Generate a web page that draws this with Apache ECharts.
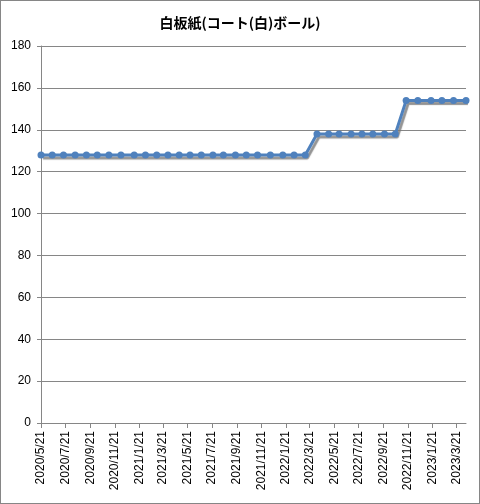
<!DOCTYPE html>
<html>
<head>
<meta charset="utf-8">
<script src="https://cdn.jsdelivr.net/npm/echarts@6/dist/echarts.min.js"></script>
<style>
html,body{margin:0;padding:0;background:#fff;}
#c{width:480px;height:504px;box-sizing:border-box;border:1px solid #868686;}
</style>
</head>
<body>
<div id="c"></div>
<script>
const title = '白板紙(コート(白)ボール)';
const dates = [
  '2020-05-21','2020-06-18','2020-07-16','2020-08-14','2020-09-11','2020-10-08',
  '2020-11-06','2020-12-06','2021-01-08','2021-02-05','2021-03-05','2021-04-02',
  '2021-04-30','2021-05-27','2021-06-24','2021-07-23','2021-08-18','2021-09-17',
  '2021-10-14','2021-11-11','2021-12-13','2022-01-13','2022-02-10','2022-03-10',
  '2022-04-08','2022-05-07','2022-06-02','2022-07-02','2022-07-29','2022-08-25',
  '2022-09-23','2022-10-20',
  '2022-11-16','2022-12-15','2023-01-17','2023-02-13','2023-03-14','2023-04-14'
];
const values = [
  128,128,128,128,128,128,128,128,128,128,128,128,
  128,128,128,128,128,128,128,128,128,128,128,128,
  138,138,138,138,138,138,138,138,
  154,154,154,154,154,154
];
const tickLabels = [
  '2020/5/21','2020/7/21','2020/9/21','2020/11/21','2021/1/21','2021/3/21',
  '2021/5/21','2021/7/21','2021/9/21','2021/11/21','2022/1/21','2022/3/21',
  '2022/5/21','2022/7/21','2022/9/21','2022/11/21','2023/1/21','2023/3/21'
];

function ts(s) {
  const p = s.split(/[-\/]/).map(Number);
  return Date.UTC(p[0], p[1] - 1, p[2]);
}
const tickValues = tickLabels.map(ts);
const seriesData = dates.map((d, i) => [ts(d), values[i]]);

const chart = echarts.init(document.getElementById('c'), null, {renderer: 'canvas'});
chart.setOption({
  animation: false,
  backgroundColor: '#fff',
  title: {
    text: title,
    left: 'center',
    top: 10,
    textStyle: {fontFamily: 'Noto Sans CJK JP', fontWeight: 'bold', fontSize: 14, color: '#000'}
  },
  grid: {left: 40, right: 13, top: 45, bottom: 80, containLabel: false},
  xAxis: {
    type: 'value',
    min: ts(dates[0]),
    max: ts(dates[dates.length - 1]),
    axisLine: {show: true, lineStyle: {color: '#868686', width: 1}},
    axisTick: {show: true, length: 5, lineStyle: {color: '#868686'}, customValues: tickValues},
    splitLine: {show: false},
    axisLabel: {
      customValues: tickValues,
      rotate: 90,
      margin: 8,
      fontFamily: 'Liberation Sans',
      fontSize: 12,
      color: '#000',
      hideOverlap: false,
      formatter: function (v) {
        const d = new Date(v);
        return d.getUTCFullYear() + '/' + (d.getUTCMonth() + 1) + '/' + d.getUTCDate();
      }
    }
  },
  yAxis: {
    type: 'value',
    min: 0,
    max: 180,
    interval: 20,
    axisLine: {show: true, lineStyle: {color: '#868686', width: 1}},
    axisTick: {show: true, length: 4, lineStyle: {color: '#868686'}},
    splitLine: {show: true, lineStyle: {color: '#868686', width: 1}},
    axisLabel: {margin: 10, fontFamily: 'Liberation Sans', fontSize: 12, color: '#000'}
  },
  series: [{
    type: 'line',
    data: seriesData,
    symbol: 'circle',
    symbolSize: 7,
    showAllSymbol: true,
    clip: false,
    lineStyle: {color: '#4F81BD', width: 3, shadowColor: 'rgba(120,120,120,0.8)', shadowBlur: 1, shadowOffsetX: 2, shadowOffsetY: 3},
    itemStyle: {color: '#4F81BD'}
  }]
});
</script>
</body>
</html>
